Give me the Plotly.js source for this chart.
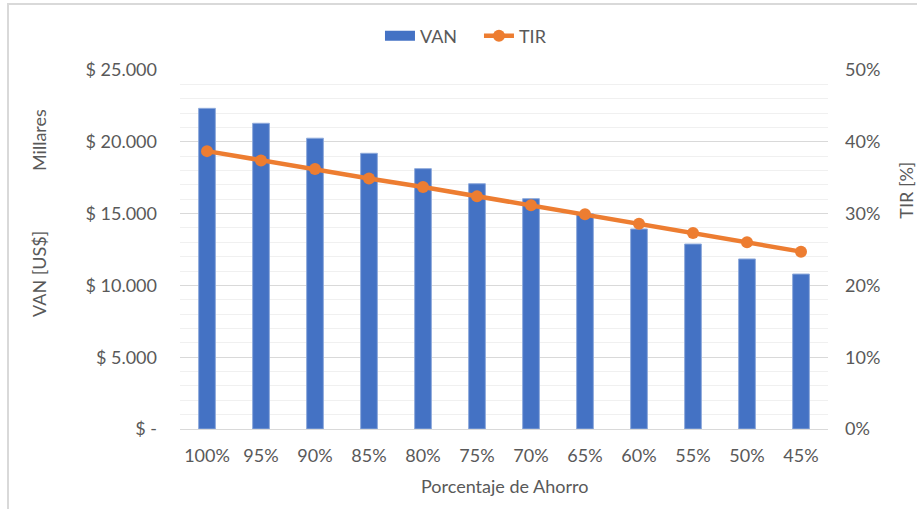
<!DOCTYPE html>
<html>
<head>
<meta charset="utf-8">
<script src="https://cdn.plot.ly/plotly-3.0.1.min.js"></script>
<style>
  html, body { margin: 0; padding: 0; background: #ffffff; }
  #chart { width: 917px; height: 509px; }
  #frame { position: absolute; left: 7px; top: 3px; width: 910px; height: 506px;
           border-left: 2px solid #d9d9d9; border-top: 2px solid #d9d9d9; box-sizing: border-box; pointer-events: none; }
</style>
</head>
<body>
<div id="chart"></div>
<div id="frame"></div>
<script>
// Data
const categories = ["100%", "95%", "90%", "85%", "80%", "75%", "70%", "65%", "60%", "55%", "50%", "45%"];
const vanMillares = [22330, 21290, 20250, 19200, 18130, 17080, 16040, 14990, 13930, 12880, 11840, 10790];
const tirValues = [0.387, 0.374, 0.362, 0.349, 0.337, 0.324, 0.3115, 0.299, 0.286, 0.273, 0.260, 0.247];
const leftTickVals = [0, 5000, 10000, 15000, 20000, 25000];
const leftTickText = ["$ -", "$ 5.000", "$ 10.000", "$ 15.000", "$ 20.000", "$ 25.000"];

const FONT = "Lato, 'Open Sans', sans-serif";
const TXT = "#595959";
const BLUE = "#4472c4";
const ORANGE = "#ed7d31";

const traces = [
  {
    type: "bar", x: categories, y: vanMillares, name: "VAN", showlegend: false,
    marker: { color: BLUE, line: { color: "#8eaadb", width: 1 } },
    yaxis: "y", hoverinfo: "x+y"
  },
  {
    type: "scatter", mode: "lines", x: [null], y: [null], name: "VAN",
    line: { color: BLUE, width: 10 }, yaxis: "y", hoverinfo: "skip"
  },
  {
    type: "scatter", mode: "lines+markers", x: categories, y: tirValues, name: "TIR",
    line: { color: ORANGE, width: 4.5 },
    marker: { color: ORANGE, size: 12 },
    yaxis: "y2"
  }
];

const layout = {
  width: 917, height: 509,
  margin: { l: 180, r: 89, t: 70, b: 80, pad: 0 },
  paper_bgcolor: "#ffffff", plot_bgcolor: "#ffffff",
  font: { family: FONT, size: 18, color: TXT },
  bargap: 0.69,
  showlegend: true,
  legend: {
    orientation: "h", x: 0.3086, xanchor: "left", y: 1.0947, yanchor: "middle",
    font: { family: FONT, size: 18, color: TXT }, traceorder: "normal",
    itemwidth: 30, entrywidth: 54, entrywidthmode: "pixels", bgcolor: "rgba(0,0,0,0)"
  },
  xaxis: {
    type: "category", range: [-0.5, categories.length - 0.5], showgrid: false, zeroline: false,
    showline: true, linecolor: "#d9d9d9", linewidth: 1,
    ticks: "", ticklabelstandoff: 10,
    tickfont: { family: FONT, size: 18, color: TXT }, fixedrange: true
  },
  yaxis: {
    range: [0, 25000], tickmode: "array", tickvals: leftTickVals, ticktext: leftTickText,
    showgrid: true, gridcolor: "#d9d9d9", gridwidth: 1, zeroline: false,
    minor: { tickmode: "linear", tick0: 0, dtick: 1000, showgrid: true, gridcolor: "#f0f0f0", gridwidth: 1, ticks: "" },
    ticks: "", ticklabelstandoff: 22,
    tickfont: { family: FONT, size: 18, color: TXT }, fixedrange: true
  },
  yaxis2: {
    overlaying: "y", side: "right", range: [0, 0.5], dtick: 0.1, tick0: 0, tickformat: ".0%",
    showgrid: false, zeroline: false, ticks: "", ticklabelstandoff: 16,
    tickfont: { family: FONT, size: 18, color: TXT }, fixedrange: true
  },
  annotations: [
    { text: "VAN [US$]", xref: "paper", yref: "paper", x: -0.2176, y: 0.4318, textangle: -90,
      showarrow: false, xanchor: "center", yanchor: "middle", font: { family: FONT, size: 18, color: TXT } },
    { text: "Millares", xref: "paper", yref: "paper", x: -0.2176, y: 0.805, textangle: -90,
      showarrow: false, xanchor: "center", yanchor: "middle", font: { family: FONT, size: 18, color: TXT } },
    { text: "TIR [%]", xref: "paper", yref: "paper", x: 1.1204, y: 0.664, textangle: -90,
      showarrow: false, xanchor: "center", yanchor: "middle", font: { family: FONT, size: 18, color: TXT } },
    { text: "Porcentaje de Ahorro", xref: "paper", yref: "paper", x: 0.5, y: -0.158,
      showarrow: false, xanchor: "center", yanchor: "middle", font: { family: FONT, size: 18, color: TXT } }
  ]
};

Plotly.newPlot("chart", traces, layout, { displayModeBar: false, staticPlot: true });
</script>
</body>
</html>
